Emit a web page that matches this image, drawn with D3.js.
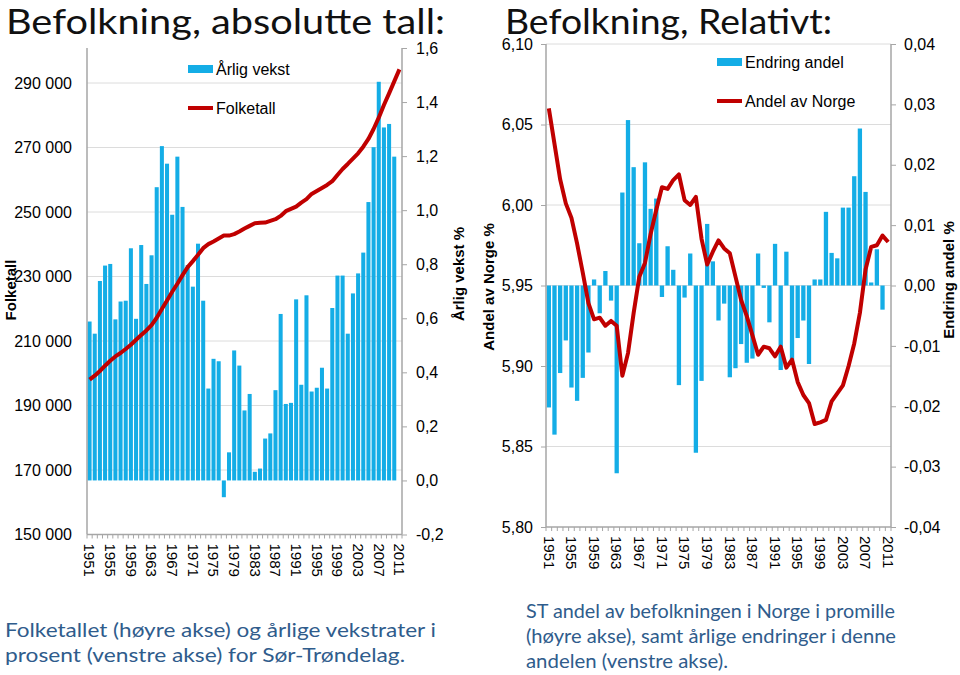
<!DOCTYPE html>
<html><head><meta charset="utf-8">
<script src="https://cdn.jsdelivr.net/npm/d3@7"></script>
<style>body{margin:0;background:#fff} svg{display:block}</style>
</head><body>
<svg id="c" width="960" height="675"></svg>
<script>
// ---------- DATA ----------
const years = ["1951","1952","1953","1954","1955","1956","1957","1958","1959","1960",
"1961","1962","1963","1964","1965","1966","1967","1968","1969","1970",
"1971","1972","1973","1974","1975","1976","1977","1978","1979","1980",
"1981","1982","1983","1984","1985","1986","1987","1988","1989","1990",
"1991","1992","1993","1994","1995","1996","1997","1998","1999","2000",
"2001","2002","2003","2004","2005","2006","2007","2008","2009","2010","2011"];
const yearTickLabels = ["1951","1955","1959","1963","1967","1971","1975","1979","1983","1987","1991","1995","1999","2003","2007","2011"];

// Left chart: Årlig vekst % (1951-2010) and Folketall (1951-2011)
const aarligVekst = [0.588,0.543,0.738,0.795,0.801,0.596,0.662,0.665,0.859,0.598,
0.871,0.727,0.833,1.085,1.237,1.172,0.983,1.198,1.012,0.797,
0.717,0.876,0.665,0.340,0.450,0.441,-0.062,0.104,0.481,0.425,
0.259,0.320,0.032,0.044,0.155,0.174,0.334,0.616,0.283,0.287,
0.670,0.354,0.685,0.329,0.343,0.417,0.340,0.638,0.758,0.758,
0.543,0.692,0.766,0.843,1.030,1.233,1.475,1.306,1.319,1.198];
const folketall = [198000,199240,200700,202340,203890,205220,206270,207510,208840,210390,
211850,213270,214940,217200,219900,222560,225260,227740,230430,232910,
234770,236720,238790,240030,240840,241760,242690,242690,243130,243930,
244860,245700,246530,246630,246720,247250,247770,248790,250250,250960,
251680,252910,253970,255610,256540,257470,258400,259540,261490,263350,
264900,266540,268210,270260,272640,275740,279240,283170,286800,290510,294230];

// Right chart: Endring andel % (1951-2010) and Andel av Norge % (1951-2011)
const endringAndel = [-0.0202,-0.0247,-0.0145,-0.0091,-0.0169,-0.0191,-0.0153,-0.0111,0.0010,-0.0046,
0.0024,-0.0025,-0.0311,0.0154,0.0274,0.0196,0.0070,0.0204,0.0127,0.0144,
-0.0019,0.0065,0.0026,-0.0165,-0.0020,0.0053,-0.0277,-0.0158,0.0102,0.0040,
-0.0058,-0.0030,-0.0152,-0.0137,-0.0097,-0.0128,-0.0121,0.0053,-0.0004,-0.0061,
0.0069,-0.0140,0.0056,-0.0123,-0.0087,-0.0058,-0.0130,0.0010,0.0010,0.0122,
0.0054,0.0045,0.0129,0.0129,0.0181,0.0260,0.0155,0.0005,0.0060,-0.0040];
const andelNorge = [6.060,6.038,6.016,6.001,5.992,5.976,5.958,5.939,5.929,5.930,
5.925,5.928,5.925,5.894,5.908,5.933,5.9555,5.964,5.982,5.997,
6.011,6.010,6.0155,6.019,6.003,6.000,6.005,5.979,5.963,5.971,
5.978,5.973,5.970,5.9555,5.941,5.931,5.919,5.907,5.912,5.911,
5.906,5.912,5.899,5.904,5.890,5.882,5.877,5.864,5.865,5.8665,
5.878,5.883,5.888,5.900,5.914,5.933,5.960,5.974,5.975,5.981,5.977];

const folkTicks = [150000,170000,190000,210000,230000,250000,270000,290000];
const vekstTicks = [-0.2,0,0.2,0.4,0.6,0.8,1.0,1.2,1.4,1.6];
const andelTicks = [5.80,5.85,5.90,5.95,6.00,6.05,6.10];
const endringTicks = [-0.04,-0.03,-0.02,-0.01,0,0.01,0.02,0.03,0.04];

// ---------- STYLE ----------
const BLUE = "#14ade6", RED = "#c00000", AXIS = "#a6a6a6", GRID = "#dcdcdc";
const FONT = "'Liberation Sans', Arial, sans-serif";
const TFONT = "Lato, 'Open Sans', sans-serif";

const loc = d3.formatLocale({decimal:",", thousands:"\u00a0", grouping:[3], currency:["",""], minus:"-"});
const fmtThousands = v => loc.format(",.0f")(v).replace(/\u00a0/g," ");

const svg = d3.select("#c");

function styleAxis(g){
  g.selectAll(".domain").remove();
  g.selectAll(".tick line").attr("stroke", AXIS).attr("stroke-width",1);
  g.selectAll("text").attr("font-family", FONT).attr("font-size", 16).attr("fill","#000");
}

function drawChart(o){
  const g = svg.append("g");
  const x = d3.scaleBand().domain(years).range([o.x0, o.x1]).paddingInner(o.pad).paddingOuter(o.pad/2);
  const cx = d => x(d) + x.bandwidth()/2;

  // gridlines
  g.append("g").selectAll("line").data(o.gridTicks).join("line")
    .attr("x1", o.x0).attr("x2", o.x1)
    .attr("y1", d => o.yLine(d)).attr("y2", d => o.yLine(d))
    .attr("stroke", GRID).attr("stroke-width",1);

  // bars
  const barData = o.bars.map((v,i)=>({y:years[i], v}));
  g.append("g").selectAll("rect").data(barData).join("rect")
    .attr("x", d => x(d.y)).attr("width", x.bandwidth())
    .attr("y", d => o.yBar(Math.max(0,d.v)))
    .attr("height", d => Math.abs(o.yBar(d.v) - o.yBar(0)))
    .attr("fill", BLUE);

  // line
  const lineData = o.line.map((v,i)=>({y:years[i], v}));
  g.append("path").datum(lineData)
    .attr("d", d3.line().x(d=>cx(d.y)).y(d=>o.yLine(d.v)))
    .attr("fill","none").attr("stroke",RED).attr("stroke-width",4)
    .attr("stroke-linejoin","round").attr("stroke-linecap","butt");

  // axes lines
  const yb = o.yBottom;
  g.append("line").attr("x1",o.x0).attr("x2",o.x0).attr("y1",o.yTop).attr("y2",yb).attr("stroke",AXIS).attr("stroke-width",1.5);
  g.append("line").attr("x1",o.x1).attr("x2",o.x1).attr("y1",o.yTop).attr("y2",yb).attr("stroke",AXIS).attr("stroke-width",1.5);
  g.append("line").attr("x1",o.x0).attr("x2",o.x1).attr("y1",yb).attr("y2",yb).attr("stroke",AXIS).attr("stroke-width",1.5);

  // x category tick marks
  const bounds = years.map(d => x(d) - x.step()*x.paddingInner()/2).concat([o.x1]);
  g.append("g").selectAll("line").data(bounds).join("line")
    .attr("x1", d=>d).attr("x2", d=>d).attr("y1", yb).attr("y2", yb+4)
    .attr("stroke", AXIS).attr("stroke-width",1);

  // x labels
  g.append("g").selectAll("text").data(yearTickLabels).join("text")
    .attr("transform", d => `translate(${cx(d)},${yb+9}) rotate(90)`)
    .attr("dy","0.35em").attr("text-anchor","start")
    .attr("font-family",FONT).attr("font-size",15).attr("fill","#000")
    .text(d=>d);

  // left axis
  const la = g.append("g").attr("transform",`translate(${o.x0},0)`)
    .call(d3.axisLeft(o.leftScale).tickValues(o.leftTicks).tickFormat(o.leftFmt).tickSize(o.leftTickSize).tickPadding(o.leftPad));
  styleAxis(la);
  // right axis
  const ra = g.append("g").attr("transform",`translate(${o.x1},0)`)
    .call(d3.axisRight(o.rightScale).tickValues(o.rightTicks).tickFormat(o.rightFmt).tickSize(5).tickPadding(o.rightPad));
  styleAxis(ra);

  // legend
  const L = o.legend;
  g.append("rect").attr("x",L.x).attr("y",L.y1-4).attr("width",25).attr("height",8).attr("fill",BLUE);
  g.append("text").attr("x",L.x+28).attr("y",L.y1).attr("dy","0.35em")
    .attr("font-family",FONT).attr("font-size",16).text(L.t1);
  g.append("line").attr("x1",L.x).attr("x2",L.x+25).attr("y1",L.y2).attr("y2",L.y2)
    .attr("stroke",RED).attr("stroke-width",4);
  g.append("text").attr("x",L.x+28).attr("y",L.y2).attr("dy","0.35em")
    .attr("font-family",FONT).attr("font-size",16).text(L.t2);
}

// ---------- LEFT CHART ----------
const yFolk = d3.scaleLinear().domain([150000,290000]).range([534.5,83]);
const yVekst = d3.scaleLinear().domain([-0.2,1.6]).range([534.5,48]);
drawChart({
  x0:87, x1:402, pad:0.22, yTop:48, yBottom:534.5,
  bars: aarligVekst, yBar: yVekst,
  line: folketall, yLine: yFolk,
  gridTicks: [170000,190000,210000,230000,250000,270000,290000],
  leftScale: yFolk, leftTicks: folkTicks, leftFmt: fmtThousands, leftTickSize:0, leftPad:15,
  rightScale: yVekst, rightTicks: vekstTicks, rightFmt: loc.format(".1f"), rightPad:9,
  legend:{x:188, y1:69, y2:108, t1:"Årlig vekst", t2:"Folketall"}
});

// ---------- RIGHT CHART ----------
const yAndel = d3.scaleLinear().domain([5.80,6.10]).range([527,44]);
const yEndring = d3.scaleLinear().domain([-0.04,0.04]).range([527,44]);
drawChart({
  x0:546, x1:891, pad:0.24, yTop:44, yBottom:527,
  bars: endringAndel, yBar: yEndring,
  line: andelNorge, yLine: yAndel,
  gridTicks: [5.85,5.90,5.95,6.00,6.05,6.10],
  leftScale: yAndel, leftTicks: andelTicks, leftFmt: loc.format(".2f"), leftTickSize:5, leftPad:8,
  rightScale: yEndring, rightTicks: endringTicks, rightFmt: loc.format(".2f"), rightPad:8,
  legend:{x:717, y1:62, y2:101, t1:"Endring andel", t2:"Andel av Norge"}
});

// ---------- AXIS TITLES ----------
function vTitle(x, y, t){
  svg.append("text").attr("transform",`translate(${x},${y}) rotate(-90)`)
    .attr("text-anchor","middle").attr("dy","0.35em")
    .attr("font-family",FONT).attr("font-size",15).attr("font-weight","bold").text(t);
}
vTitle(11, 290, "Folketall");
vTitle(459, 274, "Årlig vekst %");
vTitle(489, 287, "Andel av Norge %");
vTitle(949, 280, "Endring andel %");

// ---------- TITLES ----------
svg.append("text").attr("x",6).attr("y",33.5).attr("font-family",TFONT).attr("font-size",34)
  .attr("textLength",439).attr("lengthAdjust","spacingAndGlyphs").attr("fill","#111")
  .text("Befolkning, absolutte tall:");
svg.append("text").attr("x",505).attr("y",33.5).attr("font-family",TFONT).attr("font-size",34)
  .attr("textLength",327).attr("lengthAdjust","spacingAndGlyphs").attr("fill","#111")
  .text("Befolkning, Relativt:");

// ---------- CAPTIONS ----------
const CAP = "#2f5c8c";
const capLines = [
  {x:5, y:637, w:431, t:"Folketallet (høyre akse) og årlige vekstrater i"},
  {x:5, y:662, w:400, t:"prosent (venstre akse) for Sør-Trøndelag."},
  {x:526, y:618, w:369, t:"ST andel av befolkningen i Norge i promille"},
  {x:526, y:643, w:370, t:"(høyre akse), samt årlige endringer i denne"},
  {x:526, y:668, w:202, t:"andelen (venstre akse)."}
];
svg.append("g").selectAll("text").data(capLines).join("text")
  .attr("x",d=>d.x).attr("y",d=>d.y).attr("textLength",d=>d.w).attr("lengthAdjust","spacingAndGlyphs")
  .attr("font-family",TFONT).attr("font-size",20).attr("fill",CAP).text(d=>d.t);
</script>
</body></html>
